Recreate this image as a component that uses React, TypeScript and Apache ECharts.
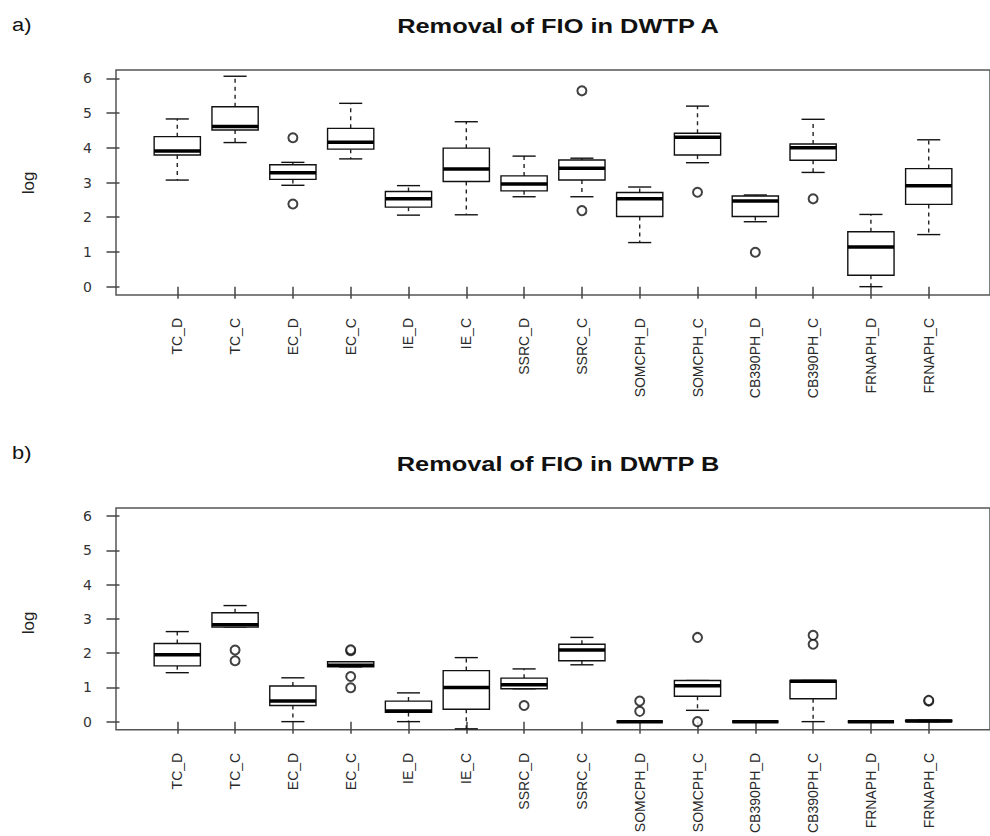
import React, { useEffect, useRef } from "react";
import * as echarts from "echarts";

const categories = [
  "TC_D", "TC_C", "EC_D", "EC_C", "IE_D", "IE_C", "SSRC_D", "SSRC_C",
  "SOMCPH_D", "SOMCPH_C", "CB390PH_D", "CB390PH_C", "FRNAPH_D", "FRNAPH_C",
];
const yTicks = [0, 1, 2, 3, 4, 5, 6];

// Panel a) DWTP A
const aLow = [3.07, 4.15, 2.92, 3.68, 2.06, 2.07, 2.59, 2.59, 1.27, 3.57, 1.87, 3.29, 0.0, 1.5];
const aQ1 = [3.79, 4.51, 3.09, 3.96, 2.29, 3.03, 2.76, 3.07, 2.02, 3.79, 2.02, 3.64, 0.33, 2.37];
const aMed = [3.91, 4.61, 3.28, 4.16, 2.53, 3.39, 2.96, 3.41, 2.53, 4.3, 2.47, 4.0, 1.14, 2.91];
const aQ3 = [4.32, 5.18, 3.51, 4.56, 2.74, 3.99, 3.19, 3.65, 2.71, 4.42, 2.61, 4.11, 1.58, 3.4];
const aHigh = [4.83, 6.06, 3.58, 5.28, 2.91, 4.75, 3.76, 3.7, 2.87, 5.2, 2.64, 4.82, 2.08, 4.23];
const aOutliers = [
  [3, 4.29], [3, 2.38], [8, 5.64], [8, 2.19], [10, 2.72], [11, 0.99], [12, 2.53],
];

// Panel b) DWTP B
const bLow = [1.43, 2.76, 0.0, 1.6, 0.0, -0.21, 0.96, 1.66, 0, 0.33, 0, 0.0, 0, 0.0];
const bQ1 = [1.63, 2.76, 0.47, 1.6, 0.27, 0.36, 0.96, 1.78, 0, 0.74, 0, 0.67, 0, 0.0];
const bMed = [1.95, 2.83, 0.6, 1.65, 0.31, 1.0, 1.08, 2.09, 0, 1.05, 0, 1.18, 0, 0.02];
const bQ3 = [2.28, 3.18, 1.04, 1.75, 0.6, 1.49, 1.27, 2.26, 0, 1.2, 0, 1.2, 0, 0.04];
const bHigh = [2.63, 3.39, 1.28, 1.75, 0.84, 1.87, 1.54, 2.46, 0, 1.2, 0, 1.2, 0, 0.04];
const bOutliers = [
  [2, 2.09], [2, 1.78], [4, 2.07], [4, 2.1], [4, 1.32], [4, 0.99], [7, 0.47],
  [9, 0.6], [9, 0.3], [10, 2.46], [10, 0.0], [12, 2.52], [12, 2.26], [14, 0.6], [14, 0.62],
];

const FONT = "'Liberation Sans', Arial, sans-serif";
const FONT_WIDE = "'DejaVu Sans', 'Liberation Sans', sans-serif";

function boxData(low: number[], q1: number[], med: number[], q3: number[], high: number[]) {
  return categories.map((_, i) => [i + 1, low[i], q1[i], med[i], q3[i], high[i]]);
}

function renderBox(params: any, api: any) {
  const x = api.value(0);
  const pLow = api.coord([x, api.value(1)]);
  const pQ1 = api.coord([x, api.value(2)]);
  const pMed = api.coord([x, api.value(3)]);
  const pQ3 = api.coord([x, api.value(4)]);
  const pHigh = api.coord([x, api.value(5)]);
  const hw = api.size([0.4, 0])[0];
  const cw = api.size([0.2, 0])[0];
  const cx = pMed[0];
  const lineStyle = { stroke: "#111", lineWidth: 1.4, fill: "transparent" };
  const dash = { stroke: "#222", lineWidth: 1.4, lineDash: [4, 4] };
  return {
    type: "group",
    children: [
      { type: "line", shape: { x1: cx, y1: pQ3[1], x2: cx, y2: pHigh[1] }, style: dash },
      { type: "line", shape: { x1: cx, y1: pQ1[1], x2: cx, y2: pLow[1] }, style: dash },
      { type: "line", shape: { x1: cx - cw, y1: pHigh[1], x2: cx + cw, y2: pHigh[1] }, style: lineStyle },
      { type: "line", shape: { x1: cx - cw, y1: pLow[1], x2: cx + cw, y2: pLow[1] }, style: lineStyle },
      {
        type: "rect",
        shape: { x: cx - hw, y: pQ3[1], width: 2 * hw, height: pQ1[1] - pQ3[1] },
        style: { stroke: "#111", lineWidth: 1.4, fill: "#fff" },
      },
      { type: "line", shape: { x1: cx - hw, y1: pMed[1], x2: cx + hw, y2: pMed[1] }, style: { stroke: "#000", lineWidth: 3.5 } },
    ],
  };
}

function xAxisCfg(gridIndex: number) {
  const vals = categories.map((_, i) => i + 1);
  return {
    type: "value",
    gridIndex,
    min: -0.06,
    max: 15.06,
    splitLine: { show: false },
    axisLine: { show: false },
    axisTick: { show: true, customValues: vals, length: 12, lineStyle: { color: "#444", width: 1.5 } },
    axisLabel: {
      show: true,
      customValues: vals,
      rotate: 90,
      margin: 23,
      fontSize: 14,
      fontFamily: FONT,
      color: "#2a2a2a",
      formatter: (v: number) => categories[Math.round(v) - 1] ?? "",
    },
  };
}

function yAxisCfg(gridIndex: number) {
  return {
    type: "value",
    gridIndex,
    min: -0.24,
    max: 6.24,
    splitLine: { show: false },
    axisLine: { show: false },
    axisTick: { show: true, customValues: yTicks, length: 13, lineStyle: { color: "#444", width: 1.5 } },
    axisLabel: {
      show: true,
      customValues: yTicks,
      margin: 24,
      fontSize: 14,
      fontFamily: FONT_WIDE,
      color: "#333",
    },
  };
}

function outlierSeries(idx: number, data: number[][]) {
  return {
    type: "scatter",
    xAxisIndex: idx,
    yAxisIndex: idx,
    symbol: "emptyCircle",
    symbolSize: 9,
    itemStyle: { color: "#111", borderWidth: 1.4 },
    data,
    z: 5,
  };
}

function label(text: string, x: number, y: number, opts: any = {}) {
  return {
    type: "text",
    x,
    y,
    scaleX: opts.scaleX ?? 1,
    rotation: opts.rotation ?? 0,
    style: {
      text,
      fill: opts.fill ?? "#111",
      fontSize: opts.fontSize ?? 18,
      fontWeight: opts.fontWeight ?? "normal",
      fontFamily: FONT,
      textAlign: opts.align ?? "center",
      textVerticalAlign: "middle",
    },
  };
}

export default function App() {
  const ref = useRef<HTMLDivElement>(null);
  useEffect(() => {
    if (!ref.current) return;
    const chart = echarts.init(ref.current, null, { renderer: "svg" });
    const gridBase = {
      show: true,
      left: 116,
      width: 884,
      height: 225,
      borderColor: "#555",
      borderWidth: 1.5,
      backgroundColor: "transparent",
    };
    chart.setOption({
      animation: false,
      backgroundColor: "#fff",
      grid: [
        { ...gridBase, top: 70 },
        { ...gridBase, top: 508 },
      ],
      xAxis: [xAxisCfg(0), xAxisCfg(1)],
      yAxis: [yAxisCfg(0), yAxisCfg(1)],
      graphic: [
        label("a)", 12, 24, { align: "left", fontSize: 19, scaleX: 1.15 }),
        label("Removal of FIO in DWTP A", 558, 26, { fontSize: 20, fontWeight: "bold", scaleX: 1.27 }),
        label("log", 28, 183, { fontSize: 17, rotation: Math.PI / 2, fill: "#222" }),
        label("b)", 12, 452, { align: "left", fontSize: 19, scaleX: 1.15 }),
        label("Removal of FIO in DWTP B", 558, 464, { fontSize: 20, fontWeight: "bold", scaleX: 1.27 }),
        label("log", 28, 623, { fontSize: 17, rotation: Math.PI / 2, fill: "#222" }),
      ],
      series: [
        {
          type: "custom",
          xAxisIndex: 0,
          yAxisIndex: 0,
          renderItem: renderBox,
          encode: { x: 0, y: [1, 2, 3, 4, 5] },
          data: boxData(aLow, aQ1, aMed, aQ3, aHigh),
          z: 3,
        },
        outlierSeries(0, aOutliers),
        {
          type: "custom",
          xAxisIndex: 1,
          yAxisIndex: 1,
          renderItem: renderBox,
          encode: { x: 0, y: [1, 2, 3, 4, 5] },
          data: boxData(bLow, bQ1, bMed, bQ3, bHigh),
          z: 3,
        },
        outlierSeries(1, bOutliers),
      ],
    });
    return () => chart.dispose();
  }, []);
  return (
    <div
      ref={ref}
      style={{ position: "fixed", left: 0, top: 0, width: 990, height: 836, background: "#fff" }}
    />
  );
}
